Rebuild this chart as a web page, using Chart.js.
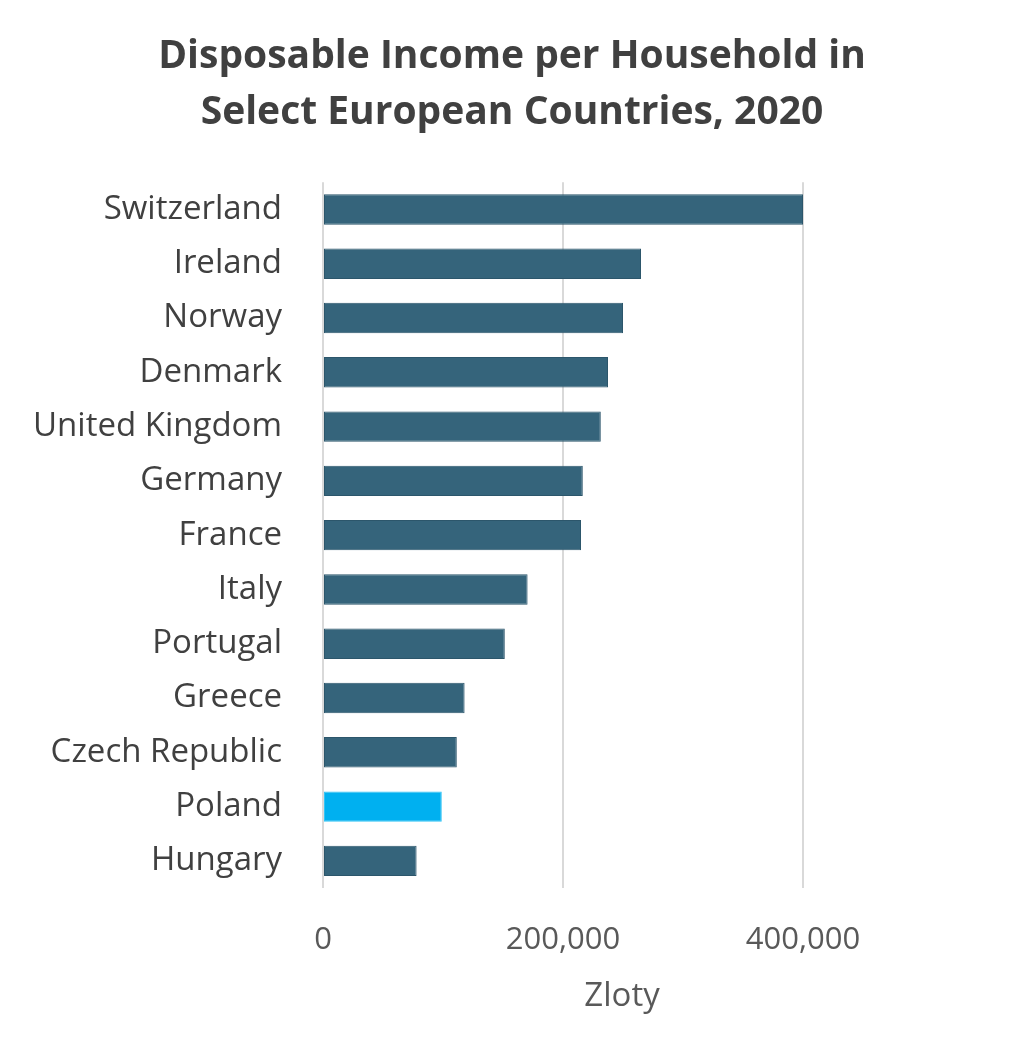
<!DOCTYPE html>
<html>
<head>
<meta charset="utf-8">
<script src="https://cdn.jsdelivr.net/npm/chart.js@4"></script>
<style>
  html, body { margin: 0; padding: 0; background: #fff; }
  #wrap { width: 1024px; height: 1062px; }
</style>
</head>
<body>
<div id="wrap"><canvas id="chart"></canvas></div>
<script>
const countries = ['Switzerland', 'Ireland', 'Norway', 'Denmark', 'United Kingdom', 'Germany',
  'France', 'Italy', 'Portugal', 'Greece', 'Czech Republic', 'Poland', 'Hungary'];
const income = [400000, 265000, 250000, 237500, 231500, 216500,
  215000, 170500, 151500, 118000, 111500, 99000, 78000];
const highlight = 'Poland';
const xTicks = [0, 200000, 400000];
const titleLines = ['Disposable Income per Household in', 'Select European Countries, 2020'];
const axisTitle = 'Zloty';

const baseColor = '#35647b';
const highlightColor = '#00b0f0';

// axis title sits a bit right of the plot centre, like the original
const axisTitlePlugin = {
  id: 'axisTitle',
  afterDraw(chart) {
    const { ctx, chartArea } = chart;
    ctx.save();
    ctx.font = '33px "Open Sans"';
    ctx.fillStyle = '#595959';
    ctx.textAlign = 'center';
    ctx.textBaseline = 'middle';
    ctx.fillText(axisTitle, (chartArea.left + chartArea.right) / 2 + 59, 997);
    ctx.restore();
  }
};

const ctx = document.getElementById('chart').getContext('2d');

new Chart(ctx, {
  type: 'bar',
  data: {
    labels: countries,
    datasets: [{
      data: income,
      backgroundColor: countries.map(c => c === highlight ? highlightColor : baseColor),
      borderColor: countries.map(c => c === highlight ? '#33c4f5' : '#2c566b'),
      borderWidth: 1,
      borderSkipped: false,
      categoryPercentage: 1,
      barPercentage: 0.56
    }]
  },
  options: {
    indexAxis: 'y',
    responsive: true,
    maintainAspectRatio: false,
    animation: false,
    layout: { padding: 0 },
    plugins: {
      legend: { display: false },
      tooltip: { enabled: false },
      title: {
        display: true,
        text: titleLines,
        color: '#404040',
        font: { family: '"Open Sans"', size: 39, weight: 'bold', lineHeight: 1.44 },
        padding: { top: 29, bottom: 41 }
      }
    },
    scales: {
      x: {
        min: 0,
        max: 400000,
        afterBuildTicks: axis => { axis.ticks = xTicks.map(v => ({ value: v })); },
        afterFit: axis => { axis.height = 174; },
        grid: { color: '#d9d9d9', lineWidth: 2, drawTicks: false },
        border: { display: false },
        ticks: {
          color: '#595959',
          padding: 34,
          font: { family: '"Open Sans"', size: 31 },
          callback: v => v.toLocaleString('en-US')
        }
      },
      y: {
        afterFit: axis => { axis.width = 323; },
        grid: { display: false },
        border: { display: false },
        ticks: {
          color: '#404040',
          padding: 33,
          font: { family: '"Open Sans"', size: 33 }
        }
      },
      // empty right-hand strip, keeps the title centred on the whole canvas
      yRight: {
        axis: 'y',
        position: 'right',
        afterFit: axis => { axis.width = 221; },
        grid: { display: false },
        border: { display: false },
        ticks: { display: false }
      }
    }
  },
  plugins: [axisTitlePlugin]
});
</script>
</body>
</html>
